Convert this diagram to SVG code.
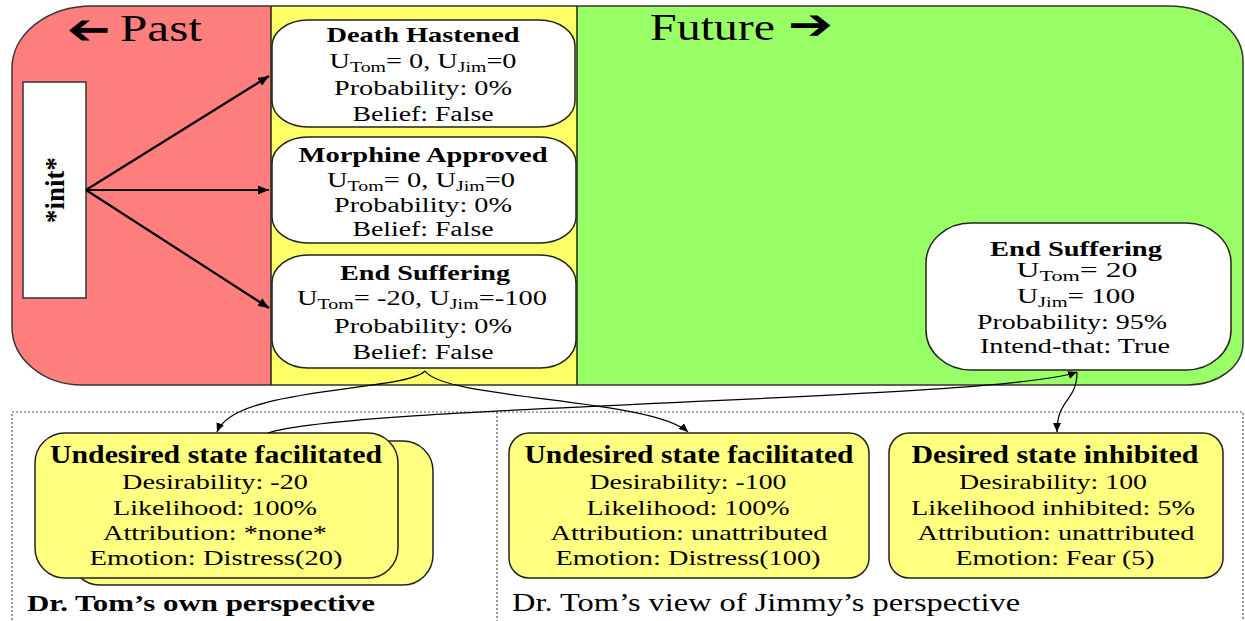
<svg xmlns="http://www.w3.org/2000/svg" width="1245" height="621" viewBox="0 0 1245 621">
<style>
text{font-family:"Liberation Serif","Times New Roman",serif;fill:#000;text-anchor:middle}
.b{font-weight:bold}
.t{font-size:22px;font-weight:bold}
.n{font-size:20px}
.bt{font-size:25px;font-weight:bold}
.bn{font-size:21px}
.sub{font-size:14px}
.node{fill:#fff;stroke:#222;stroke-width:1.5}
.ybox{fill:#ffff80;stroke:#222;stroke-width:1.5}
.conn{fill:none;stroke:#000;stroke-width:1.2}
.ia{fill:none;stroke:#000;stroke-width:2.2}
.dot{fill:none;stroke:#555;stroke-width:1.2;stroke-dasharray:2 2}
.arr{font-family:"DejaVu Sans",sans-serif;font-weight:bold;font-size:42px}
</style>
<defs>
<clipPath id="outer">
<path d="M92,6 H1168 A75,55 0 0 1 1243,61 V343 A55,42 0 0 1 1188,385 H82 A70,58 0 0 1 12,327 V68 A80,62 0 0 1 92,6 Z"/>
</clipPath>
<marker id="ah" markerUnits="userSpaceOnUse" markerWidth="11" markerHeight="9" refX="11" refY="4.5" orient="auto">
<path d="M0,0 L11,4.5 L0,9 Z" fill="#000"/>
</marker>
<marker id="ahs" markerUnits="userSpaceOnUse" markerWidth="9" markerHeight="8" refX="9" refY="4" orient="auto">
<path d="M0,0 L9,4 L0,8 Z" fill="#000"/>
</marker>
</defs>

<g id="timeline">
<g clip-path="url(#outer)">
<rect x="0" y="0" width="271" height="400" fill="#ff7f7f"/>
<rect x="271" y="0" width="306" height="400" fill="#ffff66"/>
<rect x="577" y="0" width="700" height="400" fill="#99ff66"/>
</g>
<path d="M92,6 H1168 A75,55 0 0 1 1243,61 V343 A55,42 0 0 1 1188,385 H82 A70,58 0 0 1 12,327 V68 A80,62 0 0 1 92,6 Z" fill="none" stroke="#333" stroke-width="1.5"/>
<line x1="271" y1="6" x2="271" y2="385" stroke="#222" stroke-width="1.5"/>
<line x1="577" y1="6" x2="577" y2="385" stroke="#222" stroke-width="1.5"/>
</g>

<g id="past-label">
<text class="arr" x="88.5" y="42" textLength="44" lengthAdjust="spacingAndGlyphs" transform="rotate(180 88.5 29.5)">➔</text>
<text x="120" y="41" style="font-size:38px;text-anchor:start" textLength="82" lengthAdjust="spacingAndGlyphs">Past</text>
</g>

<g id="future-label">
<text x="650" y="40" style="font-size:38px;text-anchor:start" textLength="125" lengthAdjust="spacingAndGlyphs">Future</text>
<text class="arr" x="810.5" y="39" textLength="45" lengthAdjust="spacingAndGlyphs">➔</text>
</g>

<g id="init">
<rect x="23" y="82" width="63" height="216" fill="#fff" stroke="#333" stroke-width="1.5"/>
<text class="b" x="0" y="0" style="font-size:27px" transform="translate(64 190) rotate(-90)">*init*</text>
</g>

<g id="death-hastened">
<rect class="node" x="272" y="20" width="303" height="107" rx="36" ry="26"/>
<text class="t" x="423" y="42" textLength="193" lengthAdjust="spacingAndGlyphs">Death Hastened</text>
<text class="n" x="423" y="68" textLength="187" lengthAdjust="spacingAndGlyphs">U<tspan class="sub" dy="4">Tom</tspan><tspan dy="-4">= 0, U</tspan><tspan class="sub" dy="4">Jim</tspan><tspan dy="-4">=0</tspan></text>
<text class="n" x="423" y="95" textLength="178" lengthAdjust="spacingAndGlyphs">Probability: 0%</text>
<text class="n" x="423" y="121" textLength="141" lengthAdjust="spacingAndGlyphs">Belief: False</text>
</g>

<g id="morphine-approved">
<rect class="node" x="272" y="137" width="304" height="106" rx="36" ry="26"/>
<text class="t" x="423" y="162" textLength="249" lengthAdjust="spacingAndGlyphs">Morphine Approved</text>
<text class="n" x="421" y="187" textLength="188" lengthAdjust="spacingAndGlyphs">U<tspan class="sub" dy="4">Tom</tspan><tspan dy="-4">= 0, U</tspan><tspan class="sub" dy="4">Jim</tspan><tspan dy="-4">=0</tspan></text>
<text class="n" x="423" y="212" textLength="178" lengthAdjust="spacingAndGlyphs">Probability: 0%</text>
<text class="n" x="423" y="236" textLength="141" lengthAdjust="spacingAndGlyphs">Belief: False</text>
</g>

<g id="end-suffering-past">
<rect class="node" x="272" y="255" width="304" height="113" rx="36" ry="28"/>
<text class="t" x="425" y="280" textLength="170" lengthAdjust="spacingAndGlyphs">End Suffering</text>
<text class="n" x="422" y="305" textLength="250" lengthAdjust="spacingAndGlyphs">U<tspan class="sub" dy="4">Tom</tspan><tspan dy="-4">= -20, U</tspan><tspan class="sub" dy="4">Jim</tspan><tspan dy="-4">=-100</tspan></text>
<text class="n" x="423" y="333" textLength="178" lengthAdjust="spacingAndGlyphs">Probability: 0%</text>
<text class="n" x="423" y="359" textLength="141" lengthAdjust="spacingAndGlyphs">Belief: False</text>
</g>

<g id="end-suffering-future">
<rect class="node" x="926" y="223" width="305" height="147" rx="45" ry="40"/>
<text class="t" x="1076" y="256" textLength="172" lengthAdjust="spacingAndGlyphs">End Suffering</text>
<text class="n" x="1077" y="277" textLength="121" lengthAdjust="spacingAndGlyphs">U<tspan class="sub" dy="4">Tom</tspan><tspan dy="-4">=  20</tspan></text>
<text class="n" x="1076" y="303" textLength="118" lengthAdjust="spacingAndGlyphs">U<tspan class="sub" dy="4">Jim</tspan><tspan dy="-4">= 100</tspan></text>
<text class="n" x="1072" y="329" textLength="190" lengthAdjust="spacingAndGlyphs">Probability: 95%</text>
<text class="n" x="1075" y="353" textLength="190" lengthAdjust="spacingAndGlyphs">Intend-that: True</text>
</g>

<g id="perspectives">
<rect class="dot" x="12" y="412" width="1231" height="215"/>
<line class="dot" x1="497" y1="412" x2="497" y2="621"/>
</g>

<g id="tom-undesired">
<rect class="ybox" x="70" y="441" width="363" height="144" rx="30" ry="30"/>
<rect class="ybox" x="35" y="433" width="363" height="145" rx="30" ry="30"/>
<text class="bt" x="216" y="463" textLength="332" lengthAdjust="spacingAndGlyphs">Undesired state facilitated</text>
<text class="bn" x="215" y="489" textLength="186" lengthAdjust="spacingAndGlyphs">Desirability: -20</text>
<text class="bn" x="215" y="515" textLength="204" lengthAdjust="spacingAndGlyphs">Likelihood: 100%</text>
<text class="bn" x="215" y="540" textLength="224" lengthAdjust="spacingAndGlyphs">Attribution: *none*</text>
<text class="bn" x="216" y="565" textLength="253" lengthAdjust="spacingAndGlyphs">Emotion: Distress(20)</text>
</g>

<g id="tom-own-label">
<text class="b" x="27" y="611" style="font-size:23px;text-anchor:start" textLength="348" lengthAdjust="spacingAndGlyphs">Dr. Tom’s own perspective</text>
</g>

<g id="jimmy-undesired">
<rect class="ybox" x="509" y="433" width="360" height="145" rx="20" ry="20"/>
<text class="bt" x="689" y="463" textLength="329" lengthAdjust="spacingAndGlyphs">Undesired state facilitated</text>
<text class="bn" x="688" y="489" textLength="197" lengthAdjust="spacingAndGlyphs">Desirability: -100</text>
<text class="bn" x="688" y="515" textLength="203" lengthAdjust="spacingAndGlyphs">Likelihood: 100%</text>
<text class="bn" x="689" y="540" textLength="277" lengthAdjust="spacingAndGlyphs">Attribution: unattributed</text>
<text class="bn" x="688" y="565" textLength="265" lengthAdjust="spacingAndGlyphs">Emotion: Distress(100)</text>
</g>

<g id="jimmy-desired">
<rect class="ybox" x="889" y="433" width="334" height="145" rx="20" ry="20"/>
<text class="bt" x="1055" y="463" textLength="287" lengthAdjust="spacingAndGlyphs">Desired state inhibited</text>
<text class="bn" x="1053" y="489" textLength="188" lengthAdjust="spacingAndGlyphs">Desirability: 100</text>
<text class="bn" x="1053" y="515" textLength="284" lengthAdjust="spacingAndGlyphs">Likelihood inhibited: 5%</text>
<text class="bn" x="1056" y="540" textLength="277" lengthAdjust="spacingAndGlyphs">Attribution: unattributed</text>
<text class="bn" x="1055" y="565" textLength="199" lengthAdjust="spacingAndGlyphs">Emotion: Fear (5)</text>
</g>

<g id="jimmy-label">
<text x="512" y="611" style="font-size:26px;text-anchor:start" textLength="508" lengthAdjust="spacingAndGlyphs">Dr. Tom’s view of Jimmy’s perspective</text>
</g>

<g id="connectors">
<line class="ia" x1="86" y1="190" x2="269" y2="76" marker-end="url(#ah)"/>
<line class="ia" x1="86" y1="190" x2="269" y2="190" marker-end="url(#ah)"/>
<line class="ia" x1="86" y1="190" x2="269" y2="308" marker-end="url(#ah)"/>
<path class="conn" d="M425,371 C405,392 235,386 217,432" marker-end="url(#ahs)"/>
<path class="conn" d="M425,371 C445,400 650,398 688,432" marker-end="url(#ahs)"/>
<path class="conn" d="M268,433 C350,405 1000,400 1077,372" marker-end="url(#ahs)"/>
<path class="conn" d="M1077,372 C1077,402 1057,398 1057,432" marker-end="url(#ahs)"/>
</g>
</svg>
